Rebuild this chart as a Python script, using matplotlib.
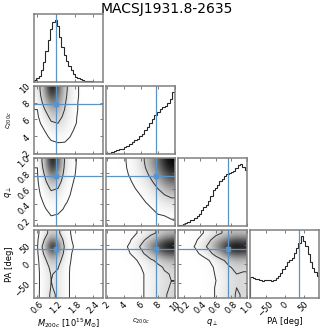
import numpy as np
import matplotlib
matplotlib.use("Agg")
from matplotlib import pyplot as plt
from matplotlib.colors import PowerNorm

TITLE = "MACSJ1931.8-2635"
labels = [r"$M_{200c}$ [$10^{15}M_{\odot}$]", r"$c_{200c}$", r"$q_{\perp}$", "PA [deg]"]
label_sizes = [6, 5, 6, 6]
ranges = [(0.5, 2.7), (1.9, 10.0), (0.12, 1.0), (-90.0, 90.0)]
ticks = [[0.6, 1.2, 1.8, 2.4], [2, 4, 6, 8, 10], [0.2, 0.4, 0.6, 0.8, 1.0], [-50, 0, 50]]
truths = [1.2, 7.8, 0.76, 38.0]

# 1d marginals (relative bin heights, left to right)
m_hist = [0.04, 0.06, 0.10, 0.19, 0.33, 0.50, 0.67, 0.85, 0.97, 1.0,
          0.90, 0.72, 0.56, 0.44, 0.34, 0.26, 0.19, 0.13, 0.09, 0.065,
          0.045, 0.03, 0.025, 0.02, 0.015, 0.012, 0.01, 0.007, 0.005, 0.003]
c_hist = [0.02, 0.025, 0.035, 0.045, 0.06, 0.075, 0.09, 0.11, 0.125, 0.16,
          0.195, 0.22, 0.25, 0.29, 0.33, 0.39, 0.44, 0.50, 0.56, 0.63,
          0.67, 0.72, 0.75, 0.78, 0.82, 0.88, 1.0]
q_hist = [0.016, 0.02, 0.03, 0.05, 0.07, 0.09, 0.10, 0.13, 0.16, 0.20,
          0.26, 0.30, 0.34, 0.40, 0.49, 0.58, 0.61, 0.66, 0.72, 0.76,
          0.80, 0.83, 0.85, 0.87, 0.89, 0.94, 0.98, 1.0, 0.95, 0.90]
pa_hist = [0.34, 0.32, 0.31, 0.30, 0.29, 0.28, 0.29, 0.29, 0.29, 0.28,
           0.29, 0.32, 0.35, 0.40, 0.47, 0.52, 0.58, 0.61, 0.65, 0.72,
           0.81, 0.88, 1.0, 0.92, 0.83, 0.70, 0.58, 0.48, 0.41, 0.35]

# 2d densities, rows listed top (high y) to bottom, 10 x 10 cells
m_c_dens = [
    [0.15, 0.50, 1.00, 0.75, 0.35, 0.15, 0.05, 0.01, 0, 0],
    [0.12, 0.45, 0.85, 0.68, 0.33, 0.14, 0.05, 0.01, 0, 0],
    [0.08, 0.36, 0.65, 0.58, 0.30, 0.13, 0.04, 0.01, 0, 0],
    [0.05, 0.26, 0.48, 0.46, 0.27, 0.12, 0.04, 0.01, 0, 0],
    [0.03, 0.17, 0.35, 0.36, 0.23, 0.11, 0.03, 0, 0, 0],
    [0.01, 0.10, 0.25, 0.28, 0.19, 0.09, 0.03, 0, 0, 0],
    [0, 0.05, 0.15, 0.19, 0.13, 0.06, 0.02, 0, 0, 0],
    [0, 0.02, 0.07, 0.10, 0.08, 0.04, 0.01, 0, 0, 0],
    [0, 0.01, 0.03, 0.04, 0.04, 0.02, 0, 0, 0, 0],
    [0, 0, 0.01, 0.01, 0.01, 0.01, 0, 0, 0, 0],
]
m_q_dens = [
    [0.05, 0.40, 1.00, 0.75, 0.25, 0.08, 0.02, 0.01, 0, 0],
    [0.04, 0.35, 0.90, 0.70, 0.22, 0.07, 0.02, 0, 0, 0],
    [0.03, 0.28, 0.70, 0.55, 0.18, 0.06, 0.02, 0, 0, 0],
    [0.02, 0.20, 0.48, 0.40, 0.14, 0.05, 0.01, 0, 0, 0],
    [0.01, 0.13, 0.32, 0.28, 0.10, 0.04, 0.01, 0, 0, 0],
    [0.01, 0.08, 0.20, 0.18, 0.07, 0.03, 0.01, 0, 0, 0],
    [0, 0.05, 0.12, 0.11, 0.05, 0.02, 0, 0, 0, 0],
    [0, 0.03, 0.07, 0.07, 0.03, 0.01, 0, 0, 0, 0],
    [0, 0.02, 0.04, 0.03, 0.02, 0.01, 0, 0, 0, 0],
    [0, 0.01, 0.02, 0.01, 0.01, 0, 0, 0, 0, 0],
]
c_q_dens = [
    [0.01, 0.02, 0.04, 0.09, 0.18, 0.32, 0.50, 0.70, 0.90, 1.00],
    [0.01, 0.02, 0.04, 0.08, 0.16, 0.29, 0.46, 0.65, 0.85, 0.95],
    [0, 0.01, 0.03, 0.07, 0.13, 0.23, 0.38, 0.56, 0.74, 0.84],
    [0, 0.01, 0.02, 0.05, 0.10, 0.17, 0.29, 0.44, 0.60, 0.70],
    [0, 0.01, 0.02, 0.03, 0.07, 0.12, 0.21, 0.33, 0.45, 0.53],
    [0, 0, 0.01, 0.02, 0.04, 0.08, 0.14, 0.23, 0.32, 0.38],
    [0, 0, 0.01, 0.01, 0.03, 0.05, 0.09, 0.15, 0.21, 0.25],
    [0, 0, 0, 0.01, 0.02, 0.03, 0.05, 0.09, 0.12, 0.15],
    [0, 0, 0, 0, 0.01, 0.02, 0.03, 0.05, 0.06, 0.08],
    [0, 0, 0, 0, 0, 0.01, 0.01, 0.02, 0.03, 0.04],
]
m_pa_dens = [
    [0.02, 0.15, 0.35, 0.30, 0.10, 0.04, 0.01, 0, 0, 0],
    [0.03, 0.25, 0.65, 0.50, 0.15, 0.05, 0.01, 0, 0, 0],
    [0.04, 0.35, 1.00, 0.75, 0.20, 0.06, 0.02, 0, 0, 0],
    [0.03, 0.28, 0.70, 0.55, 0.16, 0.05, 0.01, 0, 0, 0],
    [0.02, 0.18, 0.42, 0.35, 0.12, 0.04, 0.01, 0, 0, 0],
    [0.02, 0.14, 0.30, 0.26, 0.10, 0.03, 0.01, 0, 0, 0],
    [0.02, 0.12, 0.26, 0.22, 0.09, 0.03, 0.01, 0, 0, 0],
    [0.02, 0.12, 0.25, 0.21, 0.09, 0.03, 0.01, 0, 0, 0],
    [0.02, 0.12, 0.26, 0.22, 0.09, 0.03, 0.01, 0, 0, 0],
    [0.02, 0.13, 0.28, 0.23, 0.09, 0.03, 0.01, 0, 0, 0],
]
c_pa_dens = [
    [0, 0.01, 0.02, 0.04, 0.08, 0.14, 0.22, 0.30, 0.38, 0.42],
    [0, 0.01, 0.03, 0.07, 0.15, 0.26, 0.40, 0.55, 0.70, 0.78],
    [0.01, 0.02, 0.05, 0.10, 0.22, 0.38, 0.60, 0.80, 0.95, 1.00],
    [0, 0.02, 0.04, 0.08, 0.16, 0.28, 0.45, 0.60, 0.72, 0.78],
    [0, 0.01, 0.02, 0.04, 0.08, 0.15, 0.24, 0.33, 0.42, 0.47],
    [0, 0, 0.01, 0.02, 0.05, 0.10, 0.16, 0.23, 0.30, 0.33],
    [0, 0, 0.01, 0.02, 0.04, 0.08, 0.14, 0.20, 0.26, 0.29],
    [0, 0, 0.01, 0.02, 0.04, 0.08, 0.13, 0.19, 0.25, 0.28],
    [0, 0, 0.01, 0.02, 0.04, 0.08, 0.14, 0.20, 0.26, 0.29],
    [0, 0, 0.01, 0.02, 0.04, 0.08, 0.14, 0.21, 0.27, 0.30],
]
q_pa_dens = [
    [0.01, 0.02, 0.04, 0.08, 0.14, 0.22, 0.30, 0.36, 0.40, 0.38],
    [0.01, 0.03, 0.07, 0.14, 0.25, 0.40, 0.55, 0.68, 0.75, 0.72],
    [0.02, 0.05, 0.10, 0.20, 0.35, 0.58, 0.80, 0.95, 1.00, 0.95],
    [0.01, 0.03, 0.06, 0.12, 0.22, 0.38, 0.58, 0.72, 0.80, 0.76],
    [0, 0.01, 0.02, 0.04, 0.09, 0.16, 0.27, 0.38, 0.44, 0.42],
    [0, 0, 0.01, 0.03, 0.06, 0.11, 0.19, 0.28, 0.33, 0.31],
    [0, 0, 0.01, 0.02, 0.05, 0.10, 0.16, 0.24, 0.29, 0.28],
    [0, 0, 0.01, 0.02, 0.04, 0.09, 0.16, 0.23, 0.28, 0.27],
    [0, 0, 0.01, 0.02, 0.05, 0.10, 0.16, 0.24, 0.29, 0.28],
    [0, 0, 0.01, 0.03, 0.05, 0.10, 0.17, 0.25, 0.30, 0.28],
]

TRUTH_COLOR = "#5b93c7"
FRAME_COLOR = "0.5"
LEVEL_FRACS = [0.68, 0.95]


def mass_levels(d, fracs):
    flat = np.sort(d.ravel())[::-1]
    cum = np.cumsum(flat)
    cum /= cum[-1]
    return sorted(flat[np.searchsorted(cum, f)] for f in fracs)


def draw_hist(ax, heights, xr, truth):
    h = np.array(heights)
    edges = np.linspace(xr[0], xr[1], len(h) + 1)
    ax.stairs(h, edges, color="0.15", linewidth=0.8)
    ax.axvline(truth, color=TRUTH_COLOR, linewidth=0.9)
    ax.set_ylim(0, 1.1 * h.max())
    ax.set_yticks([])


def draw_2d(ax, dens, xr, yr, tx, ty):
    d = np.flipud(np.array(dens, dtype=float))
    ny, nx = d.shape
    ax.imshow(d, origin="lower", extent=[xr[0], xr[1], yr[0], yr[1]],
              aspect="auto", cmap="gray_r", interpolation="bicubic",
              norm=PowerNorm(1.5, vmin=0, vmax=d.max()))
    xe = np.linspace(xr[0], xr[1], nx + 1)
    ye = np.linspace(yr[0], yr[1], ny + 1)
    xp = np.concatenate([[xr[0]], 0.5 * (xe[1:] + xe[:-1]), [xr[1]]])
    yp = np.concatenate([[yr[0]], 0.5 * (ye[1:] + ye[:-1]), [yr[1]]])
    dp = np.pad(d, 1, mode="edge")
    ax.contour(xp, yp, dp, levels=mass_levels(d, LEVEL_FRACS),
               colors="0.2", linewidths=0.7)
    ax.axvline(tx, color=TRUTH_COLOR, linewidth=0.9)
    ax.axhline(ty, color=TRUTH_COLOR, linewidth=0.9)
    ax.plot(tx, ty, "s", color=TRUTH_COLOR, markersize=2.5)


hists = [m_hist, c_hist, q_hist, pa_hist]
pairs = {
    (1, 0): m_c_dens, (2, 0): m_q_dens, (2, 1): c_q_dens,
    (3, 0): m_pa_dens, (3, 1): c_pa_dens, (3, 2): q_pa_dens,
}

fig, axes = plt.subplots(4, 4, figsize=(3.33, 3.33), dpi=100)
fig.subplots_adjust(left=0.102, right=0.958, bottom=0.105, top=0.959,
                    wspace=0.05, hspace=0.05)
n = 4
for i in range(n):
    for j in range(n):
        ax = axes[i, j]
        if j > i:
            ax.set_visible(False)
            continue
        if i == j:
            draw_hist(ax, hists[i], ranges[i], truths[i])
        else:
            draw_2d(ax, pairs[(i, j)], ranges[j], ranges[i], truths[j], truths[i])
            ax.set_ylim(ranges[i])
            ax.set_yticks(ticks[i])
        ax.set_xlim(ranges[j])
        ax.set_xticks(ticks[j])
        for s in ax.spines.values():
            s.set_color(FRAME_COLOR)
            s.set_linewidth(1.1)
        ax.tick_params(direction="in", top=True, right=True, length=2.5,
                       width=0.6, color="0.4", labelsize=6, pad=1.5)
        if i < n - 1:
            ax.set_xticklabels([])
        else:
            plt.setp(ax.get_xticklabels(), rotation=45)
            ax.set_xlabel(labels[j], fontsize=label_sizes[j])
            ax.xaxis.set_label_coords(0.5, -0.27)
        if j > 0 or i == 0:
            if i != j:
                ax.set_yticklabels([])
        else:
            plt.setp(ax.get_yticklabels(), rotation=45)
            ax.set_ylabel(labels[i], fontsize=label_sizes[i])
            ax.yaxis.set_label_coords(-0.29, 0.5)

fig.suptitle(TITLE, fontsize=10, y=0.995)
fig.savefig("out.png", dpi=100)
